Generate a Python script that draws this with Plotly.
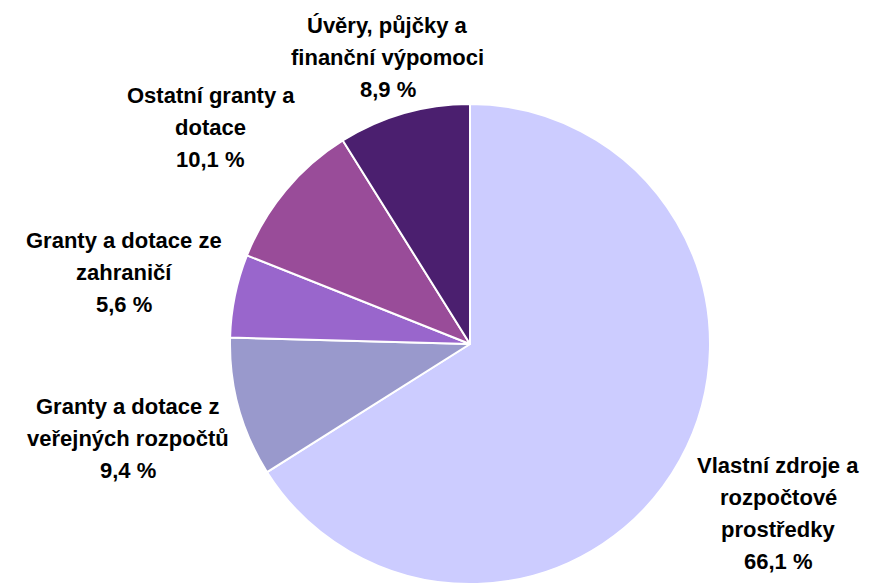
import math
import plotly.graph_objects as go

categories = [
    "Vlastní zdroje a<br>rozpočtové<br>prostředky",
    "Granty a dotace z<br>veřejných rozpočtů",
    "Granty a dotace ze<br>zahraničí",
    "Ostatní granty a<br>dotace",
    "Úvěry, půjčky a<br>finanční výpomoci",
]
values = [66.1, 9.4, 5.6, 10.1, 8.9]
colors = ["#CCCCFF", "#9999CC", "#9966CC", "#994C99", "#4B1F6F"]

W, H = 889, 584
FONT = "Liberation Sans, Arial, sans-serif"
FS = 22
LINE = 32
CHAR_W = 11.5

# pie geometry (pixels)
cx, cy, R = 470, 344, 240
dom_x = [(cx - R) / W, (cx + R) / W]
dom_y = [(H - cy - R) / H, (H - cy + R) / H]

fig = go.Figure(go.Pie(
    labels=[c.replace("<br>", " ") for c in categories],
    values=values,
    sort=False,
    direction="clockwise",
    rotation=0,
    marker=dict(colors=colors, line=dict(color="white", width=2)),
    textinfo="none",
    hoverinfo="label+percent",
    showlegend=False,
    domain=dict(x=dom_x, y=dom_y),
))

annotations = []
total = sum(values)
cum = 0.0
for cat, v in zip(categories, values):
    mid = (cum + v / 2) / total
    cum += v
    ang = 2 * math.pi * mid
    ux, uy = math.sin(ang), -math.cos(ang)  # screen coords (y down)
    lines = cat.split("<br>") + [f"{v:.1f} %".replace(".", ",")]
    n = len(lines)
    bw = max(len(s) for s in lines) * CHAR_W
    bh = (n - 1) * LINE + 22
    support = bw / 2 * abs(ux) + bh / 2 * abs(uy)
    D = R + 1.32 * support - 32
    lx, ly = cx + D * ux, cy + D * uy
    for i, s in enumerate(lines):
        yy = ly + (i - (n - 1) / 2) * LINE
        annotations.append(dict(
            x=lx / W, y=1 - yy / H, xref="paper", yref="paper",
            text=f"<b>{s}</b>", showarrow=False,
            xanchor="center", yanchor="middle",
            font=dict(family=FONT, size=FS, color="black"),
        ))

fig.update_layout(
    width=W, height=H,
    margin=dict(l=0, r=0, t=0, b=0),
    paper_bgcolor="white", plot_bgcolor="white",
    annotations=annotations,
)
fig.write_html("out.html", config={"displayModeBar": False},
               post_script="document.body.style.margin='0px';")
